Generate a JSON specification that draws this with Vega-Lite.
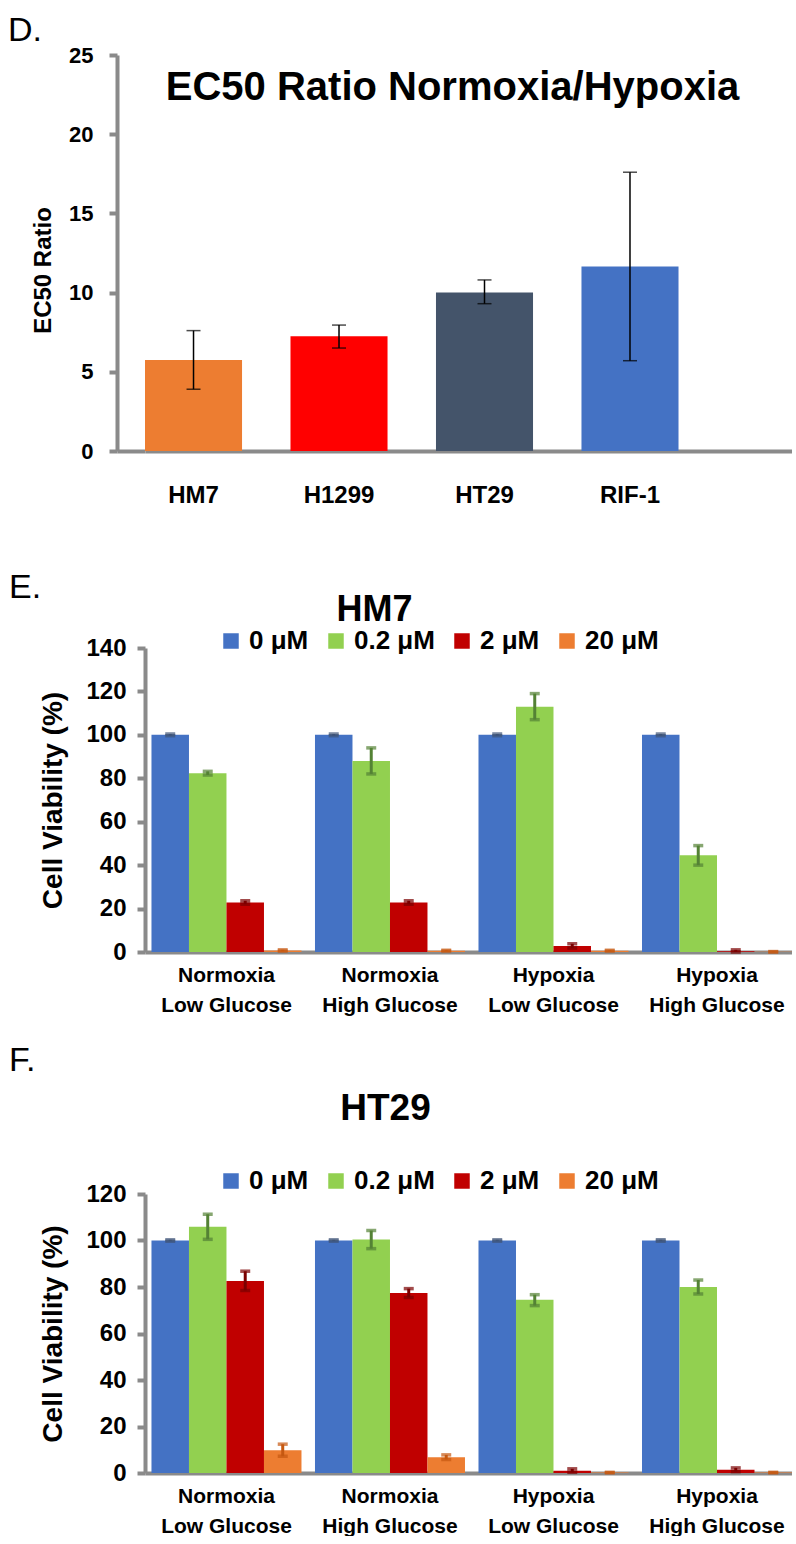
{
  "$schema": "https://vega.github.io/schema/vega-lite/v6.json",
  "background": "white",
  "padding": {"left": 8, "top": 14, "right": 0, "bottom": 0},
  "spacing": 64,
  "config": {
    "font": "Liberation Sans",
    "view": {"stroke": null},
    "axis": {
      "domainColor": "#8a8a8a", "domainWidth": 4, "tickColor": "#8a8a8a", "tickWidth": 4,
      "grid": false, "labelFont": "Liberation Sans", "labelFontWeight": "bold", "labelColor": "black",
      "titleColor": "black", "titleFont": "Liberation Sans", "titleFontWeight": "bold"
    },
    "title": {"color": "black", "font": "Liberation Sans"}
  },
  "datasets": {
    "ec50": [
      {"cell": "HM7", "ratio": 5.75, "lo": 3.9, "hi": 7.6},
      {"cell": "H1299", "ratio": 7.25, "lo": 6.5, "hi": 7.95},
      {"cell": "HT29", "ratio": 10.0, "lo": 9.3, "hi": 10.8},
      {"cell": "RIF-1", "ratio": 11.65, "lo": 5.7, "hi": 17.6}
    ],
    "hm7": [
      {"condition": "Normoxia|Low Glucose", "dose": "0 μM", "v": 100, "lo": 99.6, "hi": 100.4},
      {"condition": "Normoxia|Low Glucose", "dose": "0.2 μM", "v": 82.3, "lo": 81.5, "hi": 83.2},
      {"condition": "Normoxia|Low Glucose", "dose": "2 μM", "v": 22.8, "lo": 22.0, "hi": 23.6},
      {"condition": "Normoxia|Low Glucose", "dose": "20 μM", "v": 0.7, "lo": 0.4, "hi": 1.0},
      {"condition": "Normoxia|High Glucose", "dose": "0 μM", "v": 100, "lo": 99.6, "hi": 100.4},
      {"condition": "Normoxia|High Glucose", "dose": "0.2 μM", "v": 88, "lo": 82, "hi": 94},
      {"condition": "Normoxia|High Glucose", "dose": "2 μM", "v": 22.8, "lo": 22.0, "hi": 23.6},
      {"condition": "Normoxia|High Glucose", "dose": "20 μM", "v": 0.6, "lo": 0.4, "hi": 0.8},
      {"condition": "Hypoxia|Low Glucose", "dose": "0 μM", "v": 100, "lo": 99.6, "hi": 100.4},
      {"condition": "Hypoxia|Low Glucose", "dose": "0.2 μM", "v": 113, "lo": 107, "hi": 119},
      {"condition": "Hypoxia|Low Glucose", "dose": "2 μM", "v": 2.8, "lo": 1.8, "hi": 3.8},
      {"condition": "Hypoxia|Low Glucose", "dose": "20 μM", "v": 0.6, "lo": 0.4, "hi": 0.8},
      {"condition": "Hypoxia|High Glucose", "dose": "0 μM", "v": 100, "lo": 99.6, "hi": 100.4},
      {"condition": "Hypoxia|High Glucose", "dose": "0.2 μM", "v": 44.5, "lo": 40, "hi": 49},
      {"condition": "Hypoxia|High Glucose", "dose": "2 μM", "v": 0.4, "lo": 0.0, "hi": 1.0},
      {"condition": "Hypoxia|High Glucose", "dose": "20 μM", "v": 0.1, "lo": 0.0, "hi": 0.2}
    ],
    "ht29": [
      {"condition": "Normoxia|Low Glucose", "dose": "0 μM", "v": 100, "lo": 99.7, "hi": 100.3},
      {"condition": "Normoxia|Low Glucose", "dose": "0.2 μM", "v": 105.9, "lo": 100.5, "hi": 111.3},
      {"condition": "Normoxia|Low Glucose", "dose": "2 μM", "v": 82.6, "lo": 78.5, "hi": 86.8},
      {"condition": "Normoxia|Low Glucose", "dose": "20 μM", "v": 9.8, "lo": 7.2, "hi": 12.4},
      {"condition": "Normoxia|High Glucose", "dose": "0 μM", "v": 100, "lo": 99.7, "hi": 100.3},
      {"condition": "Normoxia|High Glucose", "dose": "0.2 μM", "v": 100.4, "lo": 96.5, "hi": 104.3},
      {"condition": "Normoxia|High Glucose", "dose": "2 μM", "v": 77.4, "lo": 75.5, "hi": 79.3},
      {"condition": "Normoxia|High Glucose", "dose": "20 μM", "v": 6.8, "lo": 5.8, "hi": 7.8},
      {"condition": "Hypoxia|Low Glucose", "dose": "0 μM", "v": 100, "lo": 99.7, "hi": 100.3},
      {"condition": "Hypoxia|Low Glucose", "dose": "0.2 μM", "v": 74.5, "lo": 72.0, "hi": 76.7},
      {"condition": "Hypoxia|Low Glucose", "dose": "2 μM", "v": 1.0, "lo": 0.3, "hi": 1.8},
      {"condition": "Hypoxia|Low Glucose", "dose": "20 μM", "v": 0.2, "lo": 0.1, "hi": 0.3},
      {"condition": "Hypoxia|High Glucose", "dose": "0 μM", "v": 100, "lo": 99.7, "hi": 100.3},
      {"condition": "Hypoxia|High Glucose", "dose": "0.2 μM", "v": 80, "lo": 77, "hi": 83},
      {"condition": "Hypoxia|High Glucose", "dose": "2 μM", "v": 1.4, "lo": 0.6, "hi": 2.2},
      {"condition": "Hypoxia|High Glucose", "dose": "20 μM", "v": 0.2, "lo": 0.1, "hi": 0.3}
    ]
  },
  "vconcat": [
    {
      "title": {"text": "D.", "anchor": "start", "frame": "group", "fontSize": 34, "fontWeight": "normal", "offset": -4, "dx": -137},
      "vconcat": [
        {
          "width": 647, "height": 396,
          "data": {"name": "ec50"},
          "title": {"text": "EC50 Ratio Normoxia/Hypoxia", "fontSize": 40, "fontWeight": "bold", "anchor": "middle", "frame": "group", "offset": -64, "dx": -16},
          "encoding": {
            "x": {"field": "cell", "type": "nominal", "sort": null,
              "scale": {"paddingInner": 0.333, "paddingOuter": 0.39, "align": 0},
              "axis": {"title": null, "ticks": false, "labelAngle": 0, "labelFontSize": 24, "labelPadding": 32}}
          },
          "layer": [
            {"mark": {"type": "bar"},
             "encoding": {
               "y": {"field": "ratio", "type": "quantitative", "scale": {"domain": [0, 25], "nice": false},
                 "axis": {"values": [0, 5, 10, 15, 20, 25], "offset": 28, "tickSize": 8, "labelFontSize": 22, "labelPadding": 16,
                   "title": "EC50 Ratio", "titleFontSize": 24, "titlePadding": 13, "titleY": 215}},
               "color": {"field": "cell", "type": "nominal", "scale": {"domain": ["HM7", "H1299", "HT29", "RIF-1"], "range": ["#ED7D31", "#FF0000", "#44546A", "#4472C4"]}, "legend": null}
             }},
            {"mark": {"type": "rule", "color": "black", "strokeWidth": 1.5},
             "encoding": {
               "y": {"field": "lo", "type": "quantitative", "axis": {"orient": "left", "values": [0], "offset": 28, "tickSize": -28, "labels": false, "domain": false, "title": null}},
               "y2": {"field": "hi"}
             }},
            {"mark": {"type": "tick", "color": "black", "thickness": 1.5, "size": 14},
             "encoding": {"y": {"field": "lo", "type": "quantitative", "axis": null}}},
            {"mark": {"type": "tick", "color": "black", "thickness": 1.5, "size": 14},
             "encoding": {"y": {"field": "hi", "type": "quantitative", "axis": null}}}
          ],
          "resolve": {"scale": {"y": "shared"}, "axis": {"y": "independent"}}
        }
      ]
    },
    {
      "spacing": 29,
      "vconcat": [
        {
          "title": {"text": "E.", "anchor": "start", "frame": "group", "fontSize": 34, "fontWeight": "normal", "offset": -13, "dx": -136},
          "vconcat": [
            {
              "width": 647, "height": 304,
              "data": {"name": "hm7"},
              "title": {"text": "HM7", "fontSize": 36, "fontWeight": "bold", "anchor": "middle", "frame": "group", "offset": -1, "dx": -94},
              "encoding": {
                "x": {"field": "condition", "type": "nominal", "sort": null,
                  "scale": {"paddingInner": 0.0826, "paddingOuter": 0.0198, "align": 1},
                  "axis": {"title": null, "ticks": false, "labelAngle": 0, "labelExpr": "split(datum.value, '|')", "labelFontSize": 21, "labelLineHeight": 30, "labelPadding": 12}},
                "xOffset": {"field": "dose", "type": "nominal", "sort": null, "scale": {"paddingInner": 0, "paddingOuter": 0}}
              },
              "layer": [
                {"mark": {"type": "bar"},
                 "encoding": {
                   "y": {"field": "v", "type": "quantitative", "scale": {"domain": [0, 140], "nice": false},
                     "axis": {"values": [0, 20, 40, 60, 80, 100, 120, 140], "tickSize": 8, "labelFontSize": 24, "labelPadding": 11,
                       "title": "Cell Viability (%)", "titleFontSize": 28, "titlePadding": 18}},
                   "color": {"field": "dose", "type": "nominal", "sort": null,
                     "scale": {"domain": ["0 μM", "0.2 μM", "2 μM", "20 μM"], "range": ["#4472C4", "#92D050", "#C00000", "#ED7D31"]},
                     "legend": {"title": null, "orient": "none", "legendX": 73, "legendY": -20, "direction": "horizontal", "symbolType": "square", "symbolSize": 240, "symbolStrokeWidth": 0, "symbolOpacity": 1, "labelFontSize": 26, "labelFontWeight": "bold", "labelFont": "Liberation Sans", "labelColor": "black", "columnPadding": 14, "labelOffset": 5}}
                 }},
                {"mark": {"type": "rule", "strokeWidth": 3},
                 "encoding": {
                   "y": {"field": "lo", "type": "quantitative"}, "y2": {"field": "hi"},
                   "color": {"field": "dose", "type": "nominal", "scale": {"domain": ["0 μM", "0.2 μM", "2 μM", "20 μM"], "range": ["#3E5478", "#548235", "#7B0000", "#C65911"]}, "legend": null}
                 }},
                {"mark": {"type": "tick", "thickness": 3.5, "size": 10},
                 "encoding": {
                   "y": {"field": "lo", "type": "quantitative"},
                   "color": {"field": "dose", "type": "nominal", "scale": {"domain": ["0 μM", "0.2 μM", "2 μM", "20 μM"], "range": ["#3E5478", "#548235", "#7B0000", "#C65911"]}, "legend": null}
                 }},
                {"mark": {"type": "tick", "thickness": 3.5, "size": 10},
                 "encoding": {
                   "y": {"field": "hi", "type": "quantitative"},
                   "color": {"field": "dose", "type": "nominal", "scale": {"domain": ["0 μM", "0.2 μM", "2 μM", "20 μM"], "range": ["#3E5478", "#548235", "#7B0000", "#C65911"]}, "legend": null}
                 }}
              ],
              "resolve": {"scale": {"color": "independent"}}
            }
          ]
        },
        {
          "title": {"text": "F.", "anchor": "start", "frame": "group", "fontSize": 34, "fontWeight": "normal", "offset": 12, "dx": -136},
          "vconcat": [
            {
              "width": 647, "height": 279,
              "data": {"name": "ht29"},
              "title": {"text": "HT29", "fontSize": 37, "fontWeight": "bold", "anchor": "middle", "frame": "group", "offset": 40, "dx": -83},
              "encoding": {
                "x": {"field": "condition", "type": "nominal", "sort": null,
                  "scale": {"paddingInner": 0.0826, "paddingOuter": 0.0198, "align": 1},
                  "axis": {"title": null, "ticks": false, "labelAngle": 0, "labelExpr": "split(datum.value, '|')", "labelFontSize": 21, "labelLineHeight": 30, "labelPadding": 12}},
                "xOffset": {"field": "dose", "type": "nominal", "sort": null, "scale": {"paddingInner": 0, "paddingOuter": 0}}
              },
              "layer": [
                {"mark": {"type": "bar"},
                 "encoding": {
                   "y": {"field": "v", "type": "quantitative", "scale": {"domain": [0, 120], "nice": false},
                     "axis": {"values": [0, 20, 40, 60, 80, 100, 120], "tickSize": 8, "labelFontSize": 24, "labelPadding": 11,
                       "title": "Cell Viability (%)", "titleFontSize": 28, "titlePadding": 18}},
                   "color": {"field": "dose", "type": "nominal", "sort": null,
                     "scale": {"domain": ["0 μM", "0.2 μM", "2 μM", "20 μM"], "range": ["#4472C4", "#92D050", "#C00000", "#ED7D31"]},
                     "legend": {"title": null, "orient": "none", "legendX": 73, "legendY": -26, "direction": "horizontal", "symbolType": "square", "symbolSize": 240, "symbolStrokeWidth": 0, "symbolOpacity": 1, "labelFontSize": 26, "labelFontWeight": "bold", "labelFont": "Liberation Sans", "labelColor": "black", "columnPadding": 14, "labelOffset": 5}}
                 }},
                {"mark": {"type": "rule", "strokeWidth": 3},
                 "encoding": {
                   "y": {"field": "lo", "type": "quantitative"}, "y2": {"field": "hi"},
                   "color": {"field": "dose", "type": "nominal", "scale": {"domain": ["0 μM", "0.2 μM", "2 μM", "20 μM"], "range": ["#3E5478", "#548235", "#7B0000", "#C65911"]}, "legend": null}
                 }},
                {"mark": {"type": "tick", "thickness": 3.5, "size": 10},
                 "encoding": {
                   "y": {"field": "lo", "type": "quantitative"},
                   "color": {"field": "dose", "type": "nominal", "scale": {"domain": ["0 μM", "0.2 μM", "2 μM", "20 μM"], "range": ["#3E5478", "#548235", "#7B0000", "#C65911"]}, "legend": null}
                 }},
                {"mark": {"type": "tick", "thickness": 3.5, "size": 10},
                 "encoding": {
                   "y": {"field": "hi", "type": "quantitative"},
                   "color": {"field": "dose", "type": "nominal", "scale": {"domain": ["0 μM", "0.2 μM", "2 μM", "20 μM"], "range": ["#3E5478", "#548235", "#7B0000", "#C65911"]}, "legend": null}
                 }}
              ],
              "resolve": {"scale": {"color": "independent"}}
            }
          ]
        }
      ]
    }
  ]
}
